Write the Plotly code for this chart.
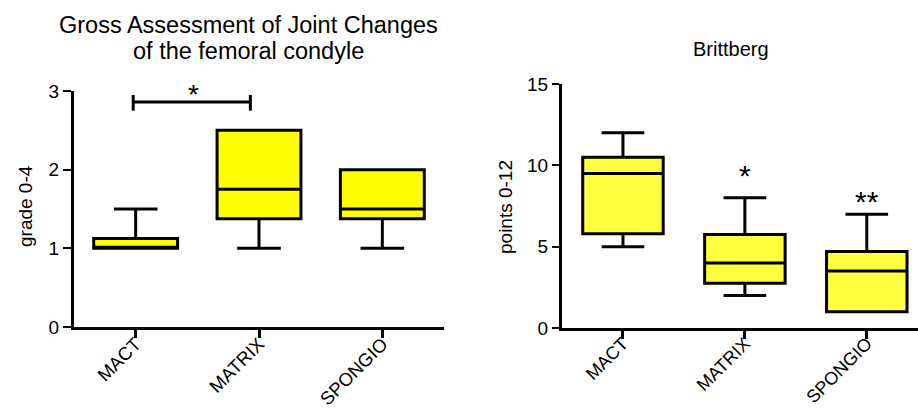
import plotly.graph_objects as go

# ---------------- data ----------------
categories = ["MACT", "MATRIX", "SPONGIO"]

# Left panel: Gross Assessment of Joint Changes (grade 0-4)
gross_min = [1.0, 1.0, 1.0]
gross_q1 = [1.0, 1.375, 1.375]
gross_median = [1.0, 1.75, 1.5]
gross_q3 = [1.125, 2.5, 2.0]
gross_max = [1.5, 2.5, 2.0]
gross_ticks = [0, 1, 2, 3]

# Right panel: Brittberg (points 0-12)
britt_min = [5.0, 2.0, 1.0]
britt_q1 = [5.8, 2.75, 1.0]
britt_median = [9.5, 4.0, 3.5]
britt_q3 = [10.5, 5.75, 4.7]
britt_max = [12.0, 8.0, 7.0]
britt_ticks = [0, 5, 10, 15]

# significance markers
gross_sig_label = "*"
britt_sig_labels = ["", "*", "**"]
britt_sig_levels = [None, 9.4, 7.75]

FONT = "Arial, Liberation Sans, sans-serif"

fig = go.Figure()

fig.add_trace(go.Box(
    x=categories, q1=gross_q1, median=gross_median, q3=gross_q3,
    lowerfence=gross_min, upperfence=gross_max,
    fillcolor="#ffff00", line=dict(color="black", width=3),
    width=0.68, whiskerwidth=0.52, boxpoints=False, hoverinfo="skip",
    showlegend=False, xaxis="x", yaxis="y"))

fig.add_trace(go.Box(
    x=categories, q1=britt_q1, median=britt_median, q3=britt_q3,
    lowerfence=britt_min, upperfence=britt_max,
    fillcolor="#ffff40", line=dict(color="black", width=3),
    width=0.66, whiskerwidth=0.53, boxpoints=False, hoverinfo="skip",
    showlegend=False, xaxis="x2", yaxis="y2"))

base_axis = dict(showgrid=False, zeroline=False, showline=True,
                 linecolor="black", linewidth=3, ticks="outside",
                 tickcolor="black", color="black", automargin=False)
ytick_font = dict(family=FONT, size=19, color="black")
xtick_font = dict(family=FONT, size=18.5, color="black")
xtick_font2 = dict(family=FONT, size=18, color="black")

fig.update_layout(
    template="none",
    width=918, height=408, autosize=False,
    margin=dict(l=0, r=0, t=0, b=0, pad=0, autoexpand=False),
    paper_bgcolor="white", plot_bgcolor="white",
    font=dict(family=FONT, color="black"),
    xaxis=dict(domain=[74 / 918, 444 / 918], anchor="y", type="category",
               range=[-0.5, 2.5], tickangle=-45, ticklen=8, tickwidth=3,
               ticklabelstandoff=-12, tickfont=xtick_font, **base_axis),
    yaxis=dict(domain=[1 - 327 / 408, 1 - 91 / 408], anchor="x",
               range=[0, 3], tickvals=gross_ticks, ticklen=8, tickwidth=2,
               tickfont=ytick_font, **base_axis),
    xaxis2=dict(domain=[562 / 918, 1.0], anchor="y2", type="category",
                range=[-0.5, 2.42], tickangle=-45, ticklen=8, tickwidth=3,
                ticklabelstandoff=-13, tickfont=xtick_font2, **base_axis),
    yaxis2=dict(domain=[1 - 328 / 408, 1 - 84 / 408], anchor="x2",
                range=[0, 15], tickvals=britt_ticks, ticklen=7, tickwidth=2,
                tickfont=ytick_font, **base_axis),
)

# significance bracket on the left panel (MACT vs MATRIX)
br_x0, br_x1, br_y, br_lo, br_hi = -0.02, 0.93, 2.86, 2.75, 2.95
for (a, b, c, d) in [(br_x0, br_y, br_x1, br_y),
                     (br_x0, br_lo, br_x0, br_hi),
                     (br_x1, br_lo, br_x1, br_hi)]:
    fig.add_shape(type="line", xref="x", yref="y", x0=a, y0=b, x1=c, y1=d,
                  line=dict(color="black", width=3))

fig.add_annotation(x=0.465, y=2.95, xref="x", yref="y", text=gross_sig_label,
                   showarrow=False, yanchor="middle", xanchor="center",
                   font=dict(family=FONT, size=28, color="black"))

for i, lab in enumerate(britt_sig_labels):
    if lab:
        fig.add_annotation(x=categories[i], y=britt_sig_levels[i],
                           xref="x2", yref="y2", text=lab, showarrow=False,
                           yanchor="middle", xanchor="center",
                           font=dict(family=FONT, size=30, color="black"))

# titles (two separate lines for tighter spacing)
title_lines = ["Gross Assessment of Joint Changes", "of the femoral condyle"]
title_line_y = [25, 51]
for txt, yp in zip(title_lines, title_line_y):
    fig.add_annotation(x=248 / 918, y=1 - yp / 408, xref="paper", yref="paper",
                       text=txt, showarrow=False, yanchor="middle",
                       xanchor="center",
                       font=dict(family=FONT, size=23.5, color="black"))
fig.add_annotation(x=731 / 918, y=1 - 49 / 408, xref="paper", yref="paper",
                   text="Brittberg", showarrow=False, yanchor="middle",
                   xanchor="center",
                   font=dict(family=FONT, size=20, color="black"))

# y axis titles
fig.add_annotation(x=25 / 918, y=1 - 206 / 408, xref="paper", yref="paper",
                   text="grade 0-4", showarrow=False, textangle=-90,
                   xanchor="center", yanchor="middle",
                   font=dict(family=FONT, size=19, color="black"))
fig.add_annotation(x=505 / 918, y=1 - 207 / 408, xref="paper", yref="paper",
                   text="points 0-12", showarrow=False, textangle=-90,
                   xanchor="center", yanchor="middle",
                   font=dict(family=FONT, size=19, color="black"))

fig.write_html("out.html", config={"displayModeBar": False, "staticPlot": True},
               post_script="document.body.style.margin='0';")
